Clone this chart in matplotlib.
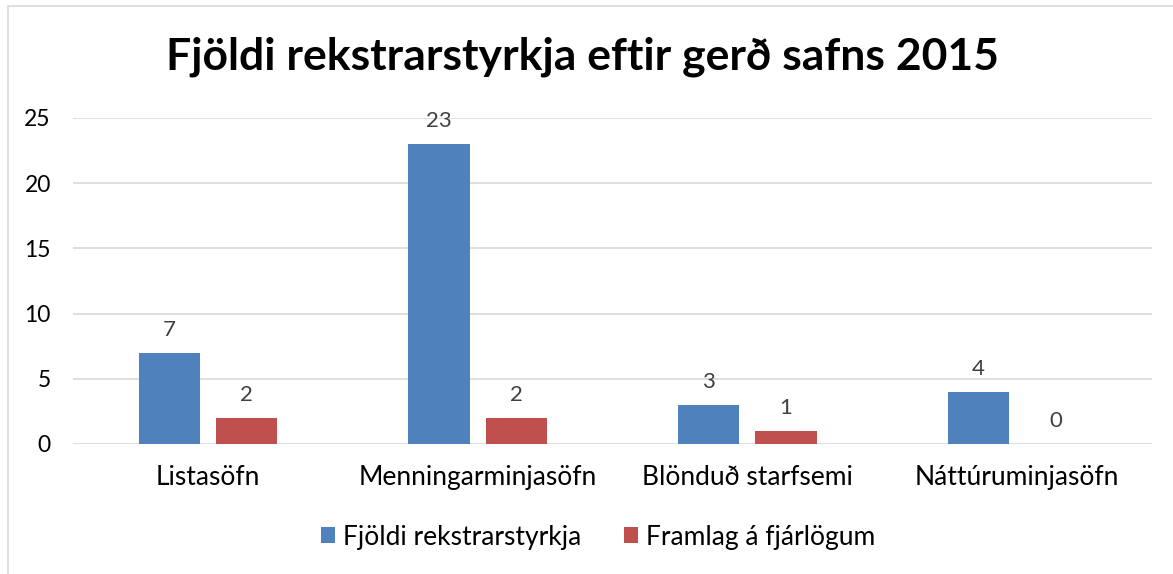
import matplotlib.pyplot as plt
import numpy as np
from matplotlib.patches import Rectangle

plt.rcParams['font.family'] = ['Lato', 'DejaVu Sans']

# gögn
flokkar = ["Listasöfn", "Menningarminjasöfn", "Blönduð starfsemi", "Náttúruminjasöfn"]
fjoldi = [7, 23, 3, 4]
framlag = [2, 2, 1, 0]
heiti = ["Fjöldi rekstrarstyrkja", "Framlag á fjárlögum"]
titill = "Fjöldi rekstrarstyrkja eftir gerð safns 2015"

blar = "#4F81BD"
raudur = "#C0504D"

fig = plt.figure(figsize=(11.73, 5.74), dpi=100)
ax = fig.add_axes([73/1173, 1-444/574, (1152-73)/1173, (444-118)/574])

x = np.arange(len(flokkar))
w = 0.227
b1 = ax.bar(x - 0.143, fjoldi, w, color=blar, label=heiti[0], zorder=3)
b2 = ax.bar(x + 0.143, framlag, w, color=raudur, label=heiti[1], zorder=3)

for bars in (b1, b2):
    for r in bars:
        ax.text(r.get_x() + r.get_width()/2, r.get_height() + 1.0, str(int(r.get_height())),
                ha='center', va='bottom', fontsize=16, color='#404040')

ax.set_xlim(-0.5, 3.5)
ax.set_ylim(0, 25)
ax.set_yticks([0, 5, 10, 15, 20, 25])
ax.yaxis.grid(True, color='#D9D9D9', linewidth=1.2, zorder=0)
ax.set_xticks(x)
ax.set_xticklabels(flokkar)
ax.tick_params(axis='both', length=0, colors='black')
ax.tick_params(axis='x', labelsize=19, pad=15)
ax.tick_params(axis='y', labelsize=16.5, pad=16)
for s in ax.spines.values():
    s.set_visible(False)

fig.text(583/1173, 1-57/574, titill, ha='center', va='center', fontsize=32, fontweight='bold')

fig.legend(loc='center', bbox_to_anchor=(598/1173, 1-537/574), ncol=2, frameon=False,
           fontsize=19, handlelength=0.55, handleheight=0.55, handletextpad=0.3,
           columnspacing=1.6)

fig.patches.append(Rectangle((8/1173, -0.1), 1.2, 1-6/574 + 0.1, transform=fig.transFigure,
                             fill=False, edgecolor='#D9D9D9', linewidth=1.2))

fig.savefig("out.png", dpi=100)
